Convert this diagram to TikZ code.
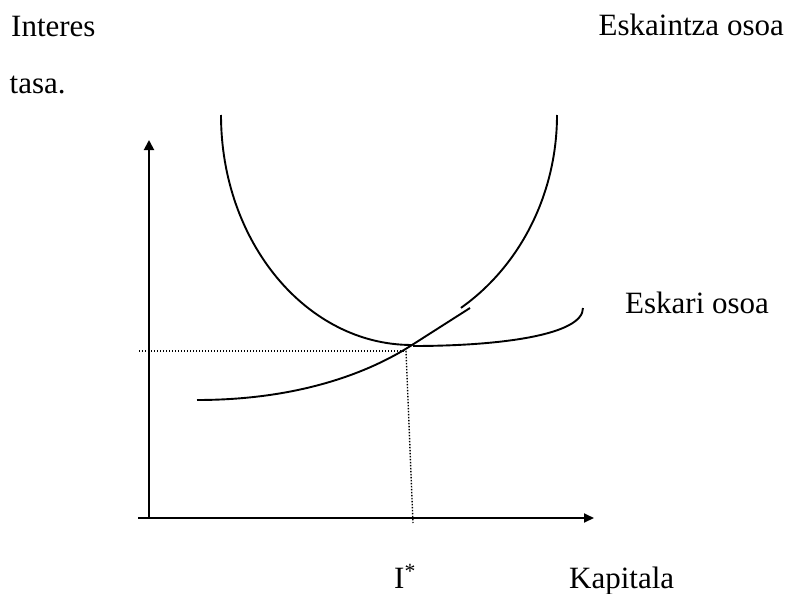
\documentclass[tikz,border=0pt]{standalone}
\usepackage{fontspec}
\setmainfont{Liberation Serif}
\usetikzlibrary{arrows.meta}
\begin{document}
\begin{tikzpicture}[x=1pt,y=1pt,
  lbl/.style={inner sep=0pt,font=\fontsize{31}{37}\selectfont},
  curve/.style={line width=1.9pt},
  axis/.style={line width=1.9pt,-{Triangle[width=10pt,length=10pt]}},
  guide/.style={line width=1.4pt,dash pattern=on 1.4pt off 1.6pt}]
\useasboundingbox (0,0) rectangle (787,-594);
% coordinates
\coordinate (O) at (149,-518);
\coordinate (ytop) at (149,-140);
\coordinate (xl) at (138,-518);
\coordinate (xr) at (594,-518);
\coordinate (E) at (412,-345);
\coordinate (hl) at (139,-351);
\coordinate (hr) at (406,-351);
\coordinate (vb) at (413,-523);
% axes
\draw[axis] (O) -- (ytop);
\draw[line width=1.9pt,-{Triangle[width=9pt,length=10pt]}] (xl) -- (xr);
% supply U (two branches)
\draw[curve] (221,-115) arc[start angle=180,end angle=270,x radius=191,y radius=230];
\draw[curve] (557,-115) arc[start angle=0,end angle=-57,x radius=211,y radius=230];
% lower curve with straight continuation
\draw[curve] (197,-400) .. controls (300,-400) and (370,-372) .. (E) -- (470,-308);
% demand curve
\draw[curve] (413,-346) .. controls (500,-346) and (583,-335) .. (583,-308);
% guides
\draw[guide] (hl) -- (hr);
\draw[guide] (hr) -- (vb);
% labels
\node[lbl,anchor=base west] (interes) at (11,-37) {Interes};
\node[lbl,anchor=base west] (tasa) at (9.5,-93) {tasa.};
\node[lbl,anchor=base east] (eskaintza) at (784,-36) {Eskaintza osoa};
\node[lbl,anchor=base west] (eskari) at (625,-313) {Eskari osoa};
\node[lbl,anchor=base west] (istar) at (394,-588) {I\textsuperscript{*}};
\node[lbl,anchor=base west] (kapitala) at (569,-588) {Kapitala};
\end{tikzpicture}
\end{document}
